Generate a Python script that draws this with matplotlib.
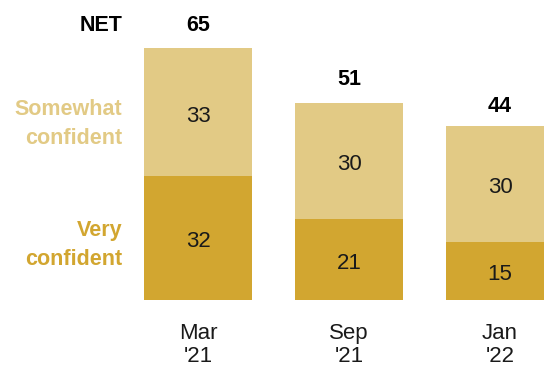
import matplotlib
matplotlib.use("Agg")
import matplotlib.pyplot as plt
from matplotlib import font_manager

periods = ["Mar\n'21", "Sep\n'21", "Jan\n'22"]
very_confident = [32, 21, 15]
somewhat_confident = [33, 30, 30]
net = [65, 51, 44]

light = "#E2CA85"
dark = "#D2A630"

names = {f.name for f in font_manager.fontManager.ttflist}
family = "Liberation Sans Narrow" if "Liberation Sans Narrow" in names else "Liberation Sans"
plain = "Liberation Sans"

fig = plt.figure(figsize=(5.44, 3.69), dpi=100)
ax = fig.add_axes([0, 0, 1, 1])
ax.set_xlim(-1.311, 2.291)
ax.set_ylim(-17.83, 77.5)
ax.axis("off")

x = list(range(len(periods)))
w = 0.715
ax.bar(x, very_confident, width=w, color=dark, linewidth=0)
ax.bar(x, somewhat_confident, width=w, bottom=very_confident, color=light, linewidth=0)

for xi, v, s, n, lab in zip(x, very_confident, somewhat_confident, net, periods):
    ax.text(xi, v / 2 - 1.0, str(v), ha="center", va="center", fontsize=16, family=plain, color="#1a1a1a")
    ax.text(xi, v + s / 2 - 1.0, str(s), ha="center", va="center", fontsize=16, family=plain, color="#1a1a1a")
    ax.text(xi, n + 6, str(n), ha="center", va="center", fontsize=15.5, family=family,
            fontweight="bold", color="black")
    ax.text(xi, -11.6, lab, ha="center", va="center", fontsize=16, family=plain,
            color="#1a1a1a", linespacing=1.1)

lx = -0.502
ax.text(lx, net[0] + 6, "NET", ha="right", va="center", fontsize=15.5, family=family,
        fontweight="bold", color="black")
ax.text(lx, very_confident[0] + somewhat_confident[0] / 2 - 3.0, "Somewhat\nconfident", ha="right",
        va="center", fontsize=15.5, family=family, fontweight="bold", color=light, linespacing=1.5)
ax.text(lx, very_confident[0] / 2 - 1.8, "Very\nconfident", ha="right", va="center", fontsize=15.5,
        family=family, fontweight="bold", color=dark, linespacing=1.5)

fig.savefig("out.png", dpi=100)
